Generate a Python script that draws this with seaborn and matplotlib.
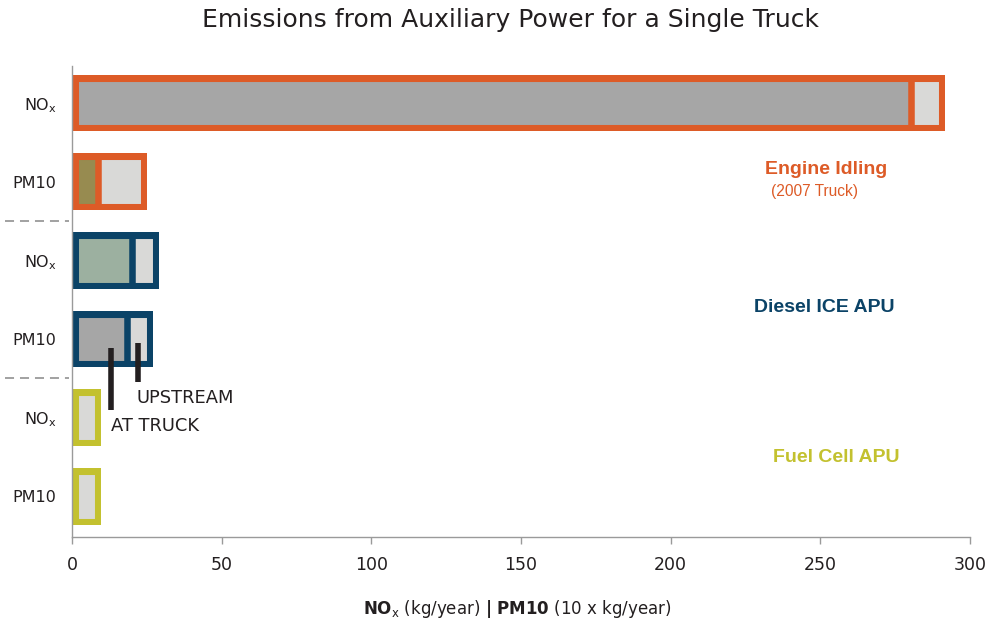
import matplotlib
matplotlib.use("Agg")
import matplotlib.pyplot as plt
import matplotlib.transforms as mtransforms
import seaborn as sns

# rows top to bottom
rows = ["idle_nox", "idle_pm10", "ice_nox", "ice_pm10", "fc_nox", "fc_pm10"]
tick_labels = ["NO$_\\mathregular{x}$", "PM10", "NO$_\\mathregular{x}$", "PM10",
               "NO$_\\mathregular{x}$", "PM10"]
at_truck = [280.2, 8.6, 20.2, 18.3, 0.0, 0.0]
upstream = [11.6, 16.3, 8.8, 8.8, 9.6, 9.6]
x_ticks = [0, 50, 100, 150, 200, 250, 300]

group_names = ["Engine Idling", "Diesel ICE APU", "Fuel Cell APU"]
group_colors = ["#DD5B27", "#0B4367", "#C3C12F"]
at_truck_fills = ["#A6A6A6", "#978B50", "#9CB0A0", "#A6A6A6", "#A6A6A6", "#A6A6A6"]
upstream_fill = "#D9D9D7"
ink = "#231F20"
axis_gray = "#9A9A9A"

total = [a + u for a, u in zip(at_truck, upstream)]
edge_colors = [c for c in group_colors for _ in range(2)]

sns.set_theme(style="white")
plt.rcParams["font.family"] = ["DejaVu Sans"]
plt.rcParams["mathtext.fontset"] = "dejavusans"

fig = plt.figure(figsize=(9.93, 6.25), dpi=100)
ax = fig.add_axes([72 / 993, 88 / 625, 898 / 993, 471 / 625])

bar_w = 0.72
stroke = 4.7  # points, ~6.5 px

# upstream (whole bar) fill
sns.barplot(x=total, y=rows, order=rows, orient="h", color=upstream_fill,
            saturation=1, width=bar_w, errorbar=None, linewidth=0, ax=ax)
outer = list(ax.patches)

# at-truck segment, clipped to the whole bar
sns.barplot(x=at_truck, y=rows, order=rows, orient="h", color="#A6A6A6",
            saturation=1, width=bar_w, errorbar=None, linewidth=stroke, ax=ax)
inner = ax.patches[len(outer):]
for p, box, fc, ec in zip(inner, outer, at_truck_fills, edge_colors):
    p.set_facecolor(fc)
    p.set_edgecolor(ec)
    p.set_clip_path(box)

# outline drawn on the inside of the whole bar
n = len(ax.patches)
sns.barplot(x=total, y=rows, order=rows, orient="h", fill=False, color="k",
            saturation=1, width=bar_w, errorbar=None, linewidth=2 * stroke, ax=ax)
frames = ax.patches[n:]
for p, ec in zip(frames, edge_colors):
    p.set_edgecolor(ec)
    p.set_facecolor("none")
    p.set_clip_path(p)

ax.set_xlim(0, 300)
ax.set_ylim(5.515, -0.47)
ax.set_xticks(x_ticks)
ax.set_yticks(range(len(rows)), labels=tick_labels)
ax.set_xlabel("")
ax.set_ylabel("")

for side in ["top", "right"]:
    ax.spines[side].set_visible(False)
for side in ["left", "bottom"]:
    ax.spines[side].set_color(axis_gray)
    ax.spines[side].set_linewidth(1.0)

ax.tick_params(axis="x", bottom=True, length=5, width=1.0, color=axis_gray,
               labelsize=12.5, labelcolor=ink, pad=9)
ax.tick_params(axis="y", left=False, length=0, labelsize=11.5, labelcolor=ink, pad=11)

# dashed separators between groups, left of the axis
trans = mtransforms.blended_transform_factory(ax.transAxes, ax.transData)
for y in [1.5, 3.5]:
    ax.plot([-0.0746, -0.003], [y, y], transform=trans, clip_on=False,
            color=axis_gray, lw=1.3, ls=(0, (5, 3.3)))

# group labels
ax.text(252, 0.85, group_names[0], color=group_colors[0], fontsize=14,
        fontweight="bold", family="Liberation Sans", ha="center", va="center")
ax.text(248, 1.12, "(2007 Truck)", color=group_colors[0], fontsize=11.2,
        family="Liberation Sans", ha="center", va="center")
ax.text(251.3, 2.6, group_names[1], color=group_colors[1], fontsize=14,
        fontweight="bold", family="Liberation Sans", ha="center", va="center")
ax.text(255.4, 4.51, group_names[2], color=group_colors[2], fontsize=14,
        fontweight="bold", family="Liberation Sans", ha="center", va="center")

# call-outs for the two segments
ax.vlines([13, 22], [3.11, 3.05], [3.90, 3.54], color=ink, lw=4, capstyle="butt")
ax.text(21.6, 3.75, "UPSTREAM", color=ink, fontsize=12.9, ha="left", va="center")
ax.text(12.9, 4.11, "AT TRUCK", color=ink, fontsize=12.9, ha="left", va="center")

fig.text(511 / 993, 1 - 20 / 625, "Emissions from Auxiliary Power for a Single Truck",
         ha="center", va="center", fontsize=18, color=ink)
fig.text(517 / 993, 1 - 609 / 625,
         "$\\mathbf{NO}_\\mathregular{x}$ (kg/year) $\\mathbf{|\\ PM10}$ (10 x kg/year)",
         ha="center", va="center", fontsize=12, color=ink)

fig.savefig("out.png", dpi=100)
